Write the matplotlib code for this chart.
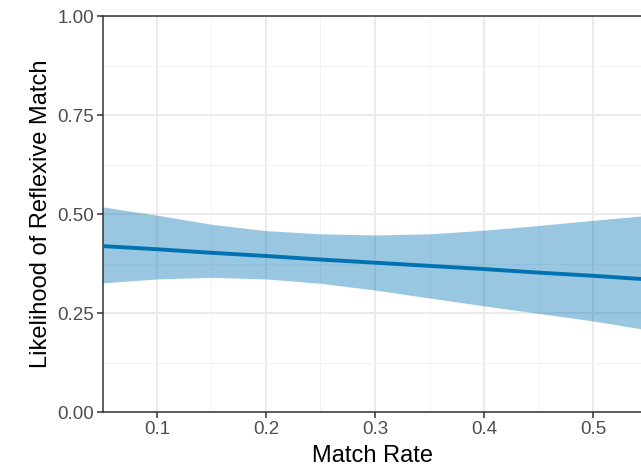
import numpy as np
import matplotlib.pyplot as plt
from matplotlib.ticker import MultipleLocator

plt.rcParams['font.family'] = ['Liberation Sans', 'DejaVu Sans']

# values
match_rate = [0.05, 0.1, 0.15, 0.2, 0.25, 0.3, 0.35, 0.4, 0.45, 0.5, 0.544]
fit = [0.419, 0.411, 0.402, 0.394, 0.385, 0.377, 0.369, 0.361, 0.352, 0.344, 0.336]
upper = [0.518, 0.497, 0.474, 0.458, 0.450, 0.447, 0.450, 0.459, 0.471, 0.484, 0.495]
lower = [0.326, 0.336, 0.340, 0.336, 0.325, 0.308, 0.288, 0.268, 0.249, 0.230, 0.210]

fig = plt.figure(figsize=(6.41, 4.69), dpi=100)
ax = fig.add_axes([103 / 641, 57 / 469, 1 - 103 / 641, (412 - 16) / 469])

ax.fill_between(match_rate, lower, upper, color='#0072B2', alpha=0.4, linewidth=0, zorder=2)
ax.plot(match_rate, fit, color='#0072B2', lw=2.8, zorder=3)

ax.set_xlim(0.0505, 0.544)
ax.set_ylim(0, 1)
ax.xaxis.set_minor_locator(MultipleLocator(0.05))
ax.yaxis.set_minor_locator(MultipleLocator(0.125))
ax.set_xticks([0.1, 0.2, 0.3, 0.4, 0.5])
ax.set_xticklabels(['0.1', '0.2', '0.3', '0.4', '0.5'])
ax.set_yticks([0, 0.25, 0.5, 0.75, 1.0])
ax.set_yticklabels(['0.00', '0.25', '0.50', '0.75', '1.00'])

ax.grid(True, which='major', color='#EBEBEB', lw=1.4, zorder=0)
ax.grid(True, which='minor', color='#F2F2F2', lw=0.7, zorder=0)
ax.set_axisbelow(True)

ax.spines['right'].set_visible(False)
for side in ['left', 'bottom', 'top']:
    ax.spines[side].set_color('#333333')
    ax.spines[side].set_linewidth(1.1)

ax.tick_params(which='major', length=4, width=1.1, color='#333333',
               labelcolor='#4D4D4D', labelsize=13.5, pad=2.5)
ax.tick_params(which='minor', length=0)

ax.set_xlabel('Match Rate', fontsize=17, color='black', labelpad=5)
ax.set_ylabel('Likelihood of Reflexive Match', fontsize=17, color='black', labelpad=4)

fig.savefig('out.png', dpi=100)
